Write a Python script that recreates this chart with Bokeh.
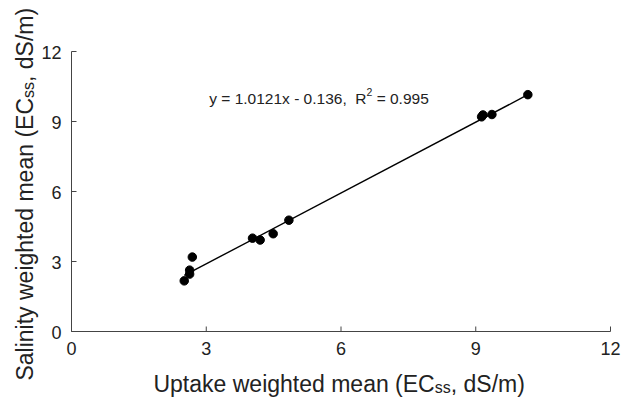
import math
from bokeh.plotting import figure
from bokeh.models import Range1d, Label, ColumnDataSource
from bokeh.core.properties import value
from bokeh.embed import file_html
from bokeh.resources import INLINE

# ---- data ----
uptake_mean = [2.51, 2.63, 2.63, 2.69, 4.03, 4.20, 4.49, 4.84, 9.13, 9.16, 9.36, 10.16]
salinity_mean = [2.17, 2.46, 2.63, 3.19, 4.00, 3.92, 4.19, 4.77, 9.20, 9.28, 9.30, 10.15]
slope = 1.0121
intercept = -0.136
r_squared = 0.995
ticks = [0, 3, 6, 9, 12]
tick_labels = ["0", "3", "6", "9", "12"]

FONT = "Liberation Sans"
TXT = "#222222"
AXC = "#444444"

# canvas and plotting-area geometry (pixels)
W, H = 627, 397
L, R, T, B = 71, 610, 51, 331
KX = (R - L) / 12.0
KY = (B - T) / 12.0
SHIFT = 6  # empirical baseline correction of the renderer (px)

p = figure(width=W, height=H,
           x_range=Range1d(-L / KX, (W - L) / KX),
           y_range=Range1d(-(H - B) / KY, B / KY),
           output_backend="svg", toolbar_location=None, title=None,
           x_axis_location=None, y_axis_location=None,
           min_border=0, min_border_left=0, min_border_right=0,
           min_border_top=0, min_border_bottom=0)
p.xgrid.visible = False
p.ygrid.visible = False
p.outline_line_color = None
p.background_fill_color = "white"
p.border_fill_color = "white"


def dx(px):
    return (px - L) / KX


def dy(py):
    return (B - py) / KY


# axes lines and inward ticks
p.line([0, 12], [0, 0], line_color=AXC, line_width=1)
p.line([0, 0], [0, 12], line_color=AXC, line_width=1)
p.segment(x0=ticks, y0=[0] * len(ticks), x1=ticks, y1=[5 / KY] * len(ticks),
          line_color=AXC, line_width=1)
p.segment(x0=[0] * len(ticks), y0=ticks, x1=[5 / KX] * len(ticks), y1=ticks,
          line_color=AXC, line_width=1)

# tick labels
p.text(x=ticks, y=[dy(354 - SHIFT)] * len(ticks), text=tick_labels,
       text_font=value(FONT), text_font_size=value("18px"), text_color=TXT,
       text_align="center", text_baseline="alphabetic")
p.text(x=[dx(61)] * len(ticks), y=[t - (6.6 - SHIFT) / KY for t in ticks], text=tick_labels,
       text_font=value(FONT), text_font_size=value("18px"), text_color=TXT,
       text_align="right", text_baseline="alphabetic")

# regression line
xf = [min(uptake_mean), max(uptake_mean)]
yf = [slope * v + intercept for v in xf]
p.line(xf, yf, line_color="black", line_width=1.4)

src = ColumnDataSource(dict(x=uptake_mean, y=salinity_mean))
p.scatter("x", "y", source=src, size=8.5, fill_color="black", line_color="black")


def lab(text, px, py, size, align="left", angle=0.0):
    if angle == 0.0:
        py = py - SHIFT
    else:
        px = px - SHIFT - 2
    p.add_layout(Label(x=dx(px), y=dy(py), text=text, text_font=FONT,
                       text_font_size=f"{size}px", text_color=TXT,
                       text_align=align, text_baseline="alphabetic",
                       angle=angle))


# equation annotation
fs = 15.5
anchor = 366.0
lab(f"y = {slope}x - {abs(intercept)},\u00a0 R", anchor, 104, fs, "right")
lab("2", anchor, 97.5, 10.5, "left")
lab(f"\u00a0= {r_squared}", anchor + 0.556 * 10.5, 104, fs, "left")

# x axis title
f_lab = 23
sub = 16
xa = 153 + 12.227 * f_lab
lab("Uptake weighted mean (EC", xa, 389, f_lab, "right")
lab("ss", xa, 393, sub, "left")
lab(", dS/m)", xa + 1.0 * sub, 389, f_lab, "left")

# y axis title (rotated)
ya = 380 - 12.282 * f_lab
bx = 32
lab("Salinity weighted mean (EC", bx, ya, f_lab, "right", math.pi / 2)
lab("ss", bx + 4, ya, sub, "left", math.pi / 2)
lab(", dS/m)", bx, ya - 1.0 * sub, f_lab, "left", math.pi / 2)

open("out.html", "w").write(file_html(p, INLINE))
